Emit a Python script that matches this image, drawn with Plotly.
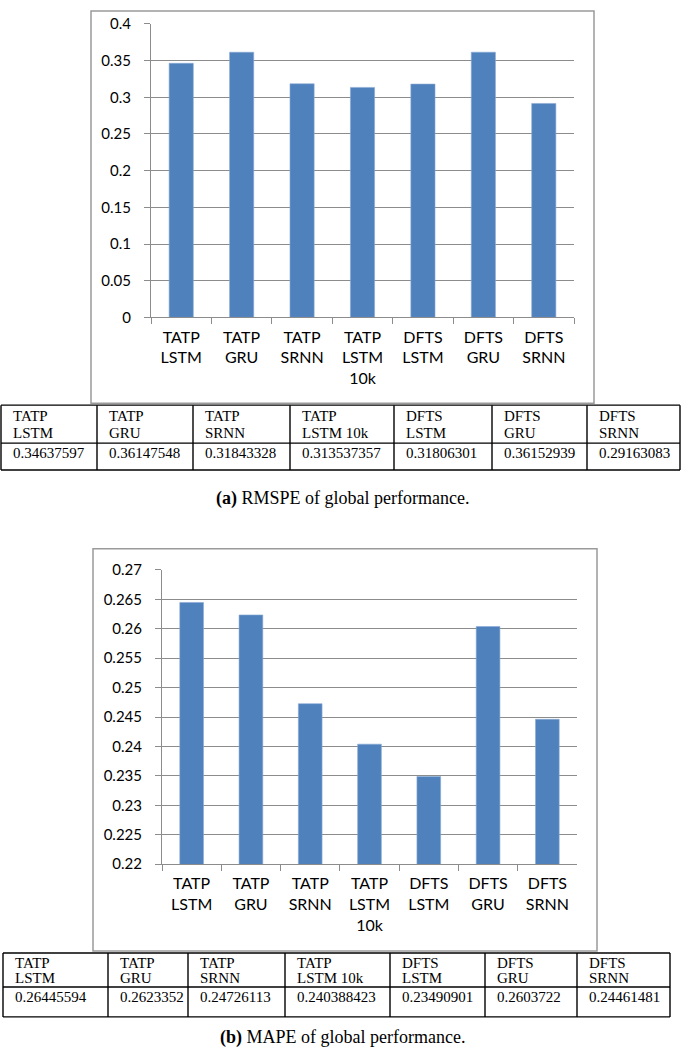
import plotly.graph_objects as go

W, H = 685, 1055

categories = ["TATP<br>LSTM", "TATP<br>GRU", "TATP<br>SRNN", "TATP<br>LSTM<br>10k",
              "DFTS<br>LSTM", "DFTS<br>GRU", "DFTS<br>SRNN"]
table_headers = [("TATP", "LSTM"), ("TATP", "GRU"), ("TATP", "SRNN"), ("TATP", "LSTM 10k"),
                 ("DFTS", "LSTM"), ("DFTS", "GRU"), ("DFTS", "SRNN")]

rmspe_values = [0.34637597, 0.36147548, 0.31843328, 0.313537357, 0.31806301, 0.36152939, 0.29163083]
rmspe_labels = ["0.34637597", "0.36147548", "0.31843328", "0.313537357", "0.31806301", "0.36152939", "0.29163083"]
rmspe_ticks = [0, 0.05, 0.1, 0.15, 0.2, 0.25, 0.3, 0.35, 0.4]
rmspe_ticktext = ["0", "0.05", "0.1", "0.15", "0.2", "0.25", "0.3", "0.35", "0.4"]

mape_values = [0.26445594, 0.2623352, 0.24726113, 0.240388423, 0.23490901, 0.2603722, 0.24461481]
mape_labels = ["0.26445594", "0.2623352", "0.24726113", "0.240388423", "0.23490901", "0.2603722", "0.24461481"]
mape_ticks = [0.22, 0.225, 0.23, 0.235, 0.24, 0.245, 0.25, 0.255, 0.26, 0.265, 0.27]
mape_ticktext = ["0.22", "0.225", "0.23", "0.235", "0.24", "0.245", "0.25", "0.255", "0.26", "0.265", "0.27"]

captions = ["<b>(a)</b> RMSPE of global performance.", "<b>(b)</b> MAPE of global performance."]

BAR = "#4F81BD"
GRID = "#8c8c8c"
YFONT = dict(family="Lato, Open Sans, sans-serif", size=15, color="#000000")
XFONT = dict(family="Lato, Open Sans, sans-serif", size=16, color="#000000")
TFONT = dict(family="Liberation Serif, Times New Roman, serif", size=15, color="#000000")

# observed vertical placement of the page in the screenshot: shown = 0.985 * y + 8
V_SCALE, V_OFF = 0.985, 8.0


def px(x):
    return x / W


def py(y):
    yy = (y - V_OFF) / V_SCALE
    return 1 - yy / H


fig = go.Figure()
fig.add_trace(go.Bar(x=categories, y=rmspe_values,
                     marker=dict(color=BAR, line=dict(width=0.6, color="#8aa9d3")),
                     xaxis="x", yaxis="y", showlegend=False, hoverinfo="skip"))
fig.add_trace(go.Bar(x=categories, y=mape_values,
                     marker=dict(color=BAR, line=dict(width=0.6, color="#8aa9d3")),
                     xaxis="x2", yaxis="y2", showlegend=False, hoverinfo="skip"))


def xaxis_cfg(dom, anchor):
    return dict(domain=dom, anchor=anchor, type="category", showgrid=False,
                showline=True, linecolor=GRID, linewidth=1,
                ticks="outside", tickson="boundaries", ticklen=6, tickcolor=GRID,
                tickfont=XFONT, fixedrange=True, ticklabelstandoff=5)


def yaxis_cfg(dom, anchor, rng, tv, tt):
    return dict(domain=dom, anchor=anchor, range=rng, tickvals=tv, ticktext=tt,
                showgrid=True, gridcolor=GRID, gridwidth=1,
                showline=True, linecolor=GRID, linewidth=1,
                ticks="outside", ticklen=6, tickcolor=GRID,
                tickfont=YFONT, zeroline=False, ticklabelstandoff=10, fixedrange=True)


fig.update_layout(
    width=W, height=H, margin=dict(l=0, r=0, t=0, b=0),
    paper_bgcolor="white", plot_bgcolor="white", bargap=0.6,
    xaxis=xaxis_cfg([px(151), px(574)], "y"),
    yaxis=yaxis_cfg([py(316), py(22)], "x", [0, 0.4], rmspe_ticks, rmspe_ticktext),
    xaxis2=xaxis_cfg([px(162), px(577)], "y2"),
    yaxis2=yaxis_cfg([py(864), py(569)], "x2", [0.22, 0.27], mape_ticks, mape_ticktext),
)

shapes = []
annotations = []

# chart frames
for (x0, y0, x1, y1) in [(91, 2, 594, 402), (93, 548, 597, 951)]:
    top = min(py(y0), 1 - 1.0 / H)
    shapes.append(dict(type="rect", xref="paper", yref="paper", x0=px(x0), x1=px(x1),
                       y0=py(y1), y1=top, line=dict(color="#9a9a9a", width=1.5)))


def add_table(cols, top, mid, bot, l1, l2, lv, labels):
    lw = 1.4
    for yy in (top, mid, bot):
        shapes.append(dict(type="line", xref="paper", yref="paper", x0=px(cols[0]), x1=px(cols[-1]),
                           y0=py(yy), y1=py(yy), line=dict(color="#000000", width=lw)))
    for xx in cols:
        shapes.append(dict(type="line", xref="paper", yref="paper", x0=px(xx), x1=px(xx),
                           y0=py(bot), y1=py(top), line=dict(color="#000000", width=lw)))
    for i, (h1, h2) in enumerate(table_headers):
        xl = px(cols[i] + 10)
        for txt, yy in ((h1, l1), (h2, l2), (labels[i], lv)):
            annotations.append(dict(text=txt, x=xl, y=py(yy), xref="paper", yref="paper",
                                    xanchor="left", yanchor="middle", showarrow=False, font=TFONT))


add_table([1, 97, 193, 290, 394, 492, 587, 680], 404, 442, 469, 415, 432, 452, rmspe_labels)
add_table([3, 108, 188, 285, 390, 485, 577, 670], 953, 987, 1017, 963, 978, 997, mape_labels)

for txt, yy in zip(captions, [498, 1038]):
    annotations.append(dict(text=txt, x=px(342), y=py(yy), xref="paper", yref="paper",
                            xanchor="center", yanchor="middle", showarrow=False,
                            font=dict(family="Liberation Serif, Times New Roman, serif", size=18, color="#000")))

fig.update_layout(shapes=shapes, annotations=annotations, hovermode=False)
fig.write_html("out.html", config={"displayModeBar": False, "staticPlot": True},
               post_script="document.body.style.margin='0';document.body.style.padding='0';")
